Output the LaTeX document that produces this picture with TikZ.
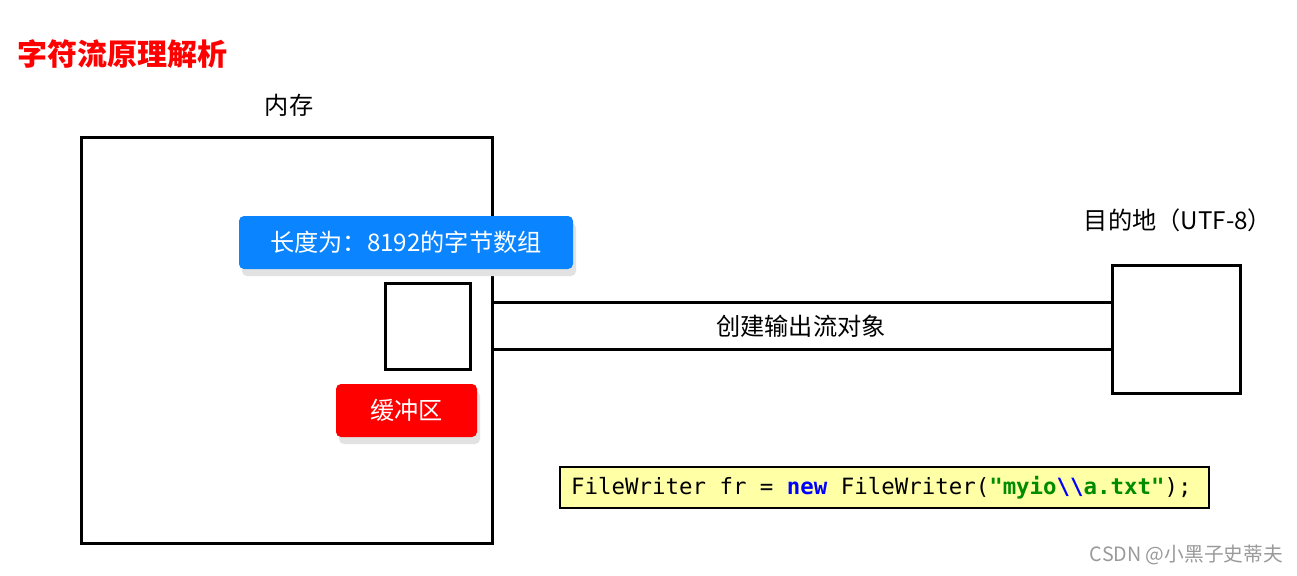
\documentclass[tikz,border=0pt]{standalone}
\usepackage{fontspec}
\setmainfont{Noto Sans CJK SC}
\newfontfamily\codefont{DejaVu Sans Mono}
\usetikzlibrary{shadows}
\definecolor{lblblue}{HTML}{0A84FF}
\definecolor{lblred}{HTML}{FF0000}
\definecolor{codebg}{HTML}{FFFFA6}
\definecolor{codeblue}{HTML}{0000FF}
\definecolor{codegreen}{HTML}{008C00}
\definecolor{shadowgray}{HTML}{E2E2E2}
\definecolor{wmgray}{HTML}{9A9A9A}
\tikzset{
  frame/.style={draw, line width=3pt, inner sep=0pt, minimum width=#1},
  tag/.style={rounded corners=5pt, text=white, inner sep=0pt,
    font=\fontsize{24.2}{28}\selectfont,
    drop shadow={shadow xshift=3pt, shadow yshift=-7pt, fill=shadowgray, opacity=1}},
  plain/.style={font=\fontsize{24.2}{28}\selectfont, inner sep=0pt},
  conn/.style={line width=3pt}
}
\begin{document}
\begin{tikzpicture}[x=1pt,y=-1pt]
\useasboundingbox (0,0) rectangle (1297,575);
\fill[white] (0,0) rectangle (1297,575);
% title
\node[anchor=west, inner sep=0pt, text=lblred, font=\fontsize{30}{35}\selectfont\bfseries] (title) at (17,54) {字符流原理解析};
% memory
\node[plain] (memlbl) at (289,105) {内存};
\node[frame=411pt, minimum height=406pt] (mem) at (286.5,340) {};
% blue label
\node[tag, fill=lblblue, minimum width=334pt, minimum height=53pt] (len) at (406,242.5) {长度为：8192的字节数组};
% small buffer box
\node[frame=85pt, minimum height=86pt] (buf) at (427.5,326) {};
% red label
\node[tag, fill=lblred, minimum width=141pt, minimum height=53pt] (bufl) at (406.5,410.5) {缓冲区};
% destination
\node[plain] (destlbl) at (1178,220) {目的地（UTF-8）};
\node[frame=128pt, minimum height=128pt] (dest) at (1176,329) {};
% stream lines
\draw[conn] ([yshift=38pt]mem.east) -- ([yshift=27pt]dest.west);
\draw[conn] ([yshift=-9pt]mem.east) -- ([yshift=-20pt]dest.west);
\node[plain] (stream) at (801,326) {创建输出流对象};
% code
\node[draw, line width=1.5pt, fill=codebg, minimum width=649pt, minimum height=41pt, inner sep=0pt] (codebox) at (884.5,487.5) {};
\node[anchor=west, inner sep=0pt, font=\codefont\fontsize{22.4}{26}\selectfont] (code) at (571,488)
  {FileWriter fr = \textcolor{codeblue}{\bfseries new} FileWriter(\textcolor{codegreen}{\bfseries "myio}\textcolor{codeblue}{\bfseries\textbackslash\textbackslash}\textcolor{codegreen}{\bfseries a.txt"});};
% watermark
\node[anchor=east, inner sep=0pt, text=wmgray, font=\fontsize{19.7}{23}\selectfont] (wm) at (1283,555) {CSDN @小黑子史蒂夫};
\end{tikzpicture}
\end{document}
